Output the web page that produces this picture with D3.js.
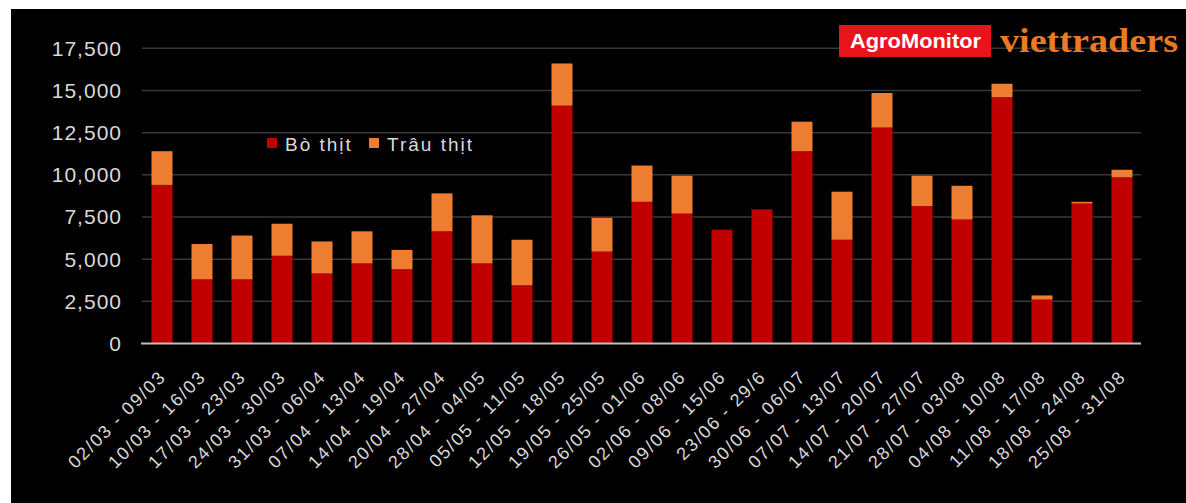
<!DOCTYPE html>
<html>
<head>
<meta charset="utf-8">
<script src="https://cdn.jsdelivr.net/npm/d3@7"></script>
<style>
  body { margin: 0; background: #ffffff; }
  svg { display: block; }
  .grid { stroke: #383838; stroke-width: 1.5; }
  .axis-line { stroke: #bfbfbf; stroke-width: 2; }
  .tick-label { fill: #d9d9d9; font-family: "Liberation Sans", Arial, sans-serif; }
</style>
</head>
<body>
<svg id="chart" width="1186" height="503"></svg>
<script>

// weeks (x categories)
var weeks = ["02/03 - 09/03", "10/03 - 16/03", "17/03 - 23/03", "24/03 - 30/03", "31/03 - 06/04",
             "07/04 - 13/04", "14/04 - 19/04", "20/04 - 27/04", "28/04 - 04/05", "05/05 - 11/05",
             "12/05 - 18/05", "19/05 - 25/05", "26/05 - 01/06", "02/06 - 08/06", "09/06 - 15/06",
             "23/06 - 29/6", "30/06 - 06/07", "07/07 - 13/07", "14/07 - 20/07", "21/07 - 27/07",
             "28/07 - 03/08", "04/08 - 10/08", "11/08 - 17/08", "18/08 - 24/08", "25/08 - 31/08"];

// Bò thịt (beef)
var bo_thit = [9400, 3800, 3800, 5200, 4150, 4750, 4400, 6650, 4750, 3450,
               14100, 5450, 8400, 7700, 6750, 7950, 11400, 6150, 12800, 8150,
               7350, 14600, 2600, 8300, 9850];

// Trâu thịt (buffalo)
var trau_thit = [2000, 2100, 2600, 1900, 1900, 1900, 1150, 2250, 2850, 2700,
                 2500, 2000, 2150, 2250, 0, 0, 1750, 2850, 2050, 1800,
                 2000, 800, 250, 100, 450];

var y_ticks = [0, 2500, 5000, 7500, 10000, 12500, 15000, 17500];

var series_names = ["Bò thịt", "Trâu thịt"];
var series_colors = ["#c00000", "#ed7d31"];

var svg = d3.select("#chart");

// black panel (white strip top / left like the source image)
svg.append("rect")
   .attr("x", 11).attr("y", 9)
   .attr("width", 1186 - 11).attr("height", 503 - 9)
   .attr("fill", "#000000");

var xScale = d3.scaleBand()
               .domain(weeks)
               .range([142, 1142])
               .paddingInner(0.475)
               .paddingOuter(0.2375);

var yScale = d3.scaleLinear()
               .domain([0, 17500])
               .range([343.5, 48.3]);

// gridlines
svg.selectAll("line.grid")
   .data(y_ticks.filter(d => d > 0))
   .enter()
   .append("line")
   .attr("class", "grid")
   .attr("x1", 142)
   .attr("x2", 1141)
   .attr("y1", d => yScale(d))
   .attr("y2", d => yScale(d));

// y labels
svg.selectAll("text.ylab")
   .data(y_ticks)
   .enter()
   .append("text")
   .attr("class", "tick-label")
   .attr("text-anchor", "end")
   .attr("x", 122)
   .attr("y", d => yScale(d) + 7.5)
   .style("font-size", "21px")
   .style("letter-spacing", "1px")
   .text(d => d3.format(",")(d));

// stacked bars
var rows = weeks.map((w, i) => ({week: w, bo: bo_thit[i], trau: trau_thit[i]}));
var stack = d3.stack().keys(["bo", "trau"]);
var layers = stack(rows);

svg.selectAll("g.layer")
   .data(layers)
   .enter()
   .append("g")
   .attr("class", "layer")
   .attr("fill", (d, i) => series_colors[i])
   .selectAll("rect")
   .data(d => d.filter(p => p[1] - p[0] > 0))
   .enter()
   .append("rect")
   .attr("x", d => xScale(d.data.week))
   .attr("width", xScale.bandwidth())
   .attr("y", d => yScale(d[1]))
   .attr("height", d => yScale(d[0]) - yScale(d[1]));

// x axis line
svg.append("line")
   .attr("class", "axis-line")
   .attr("x1", 141).attr("x2", 1141)
   .attr("y1", yScale(0)).attr("y2", yScale(0));

// x labels, rotated
svg.selectAll("text.xlab")
   .data(weeks)
   .enter()
   .append("text")
   .attr("class", "tick-label")
   .attr("text-anchor", "end")
   .attr("transform", d => "translate(" + (xScale(d) + xScale.bandwidth() / 2 + 5) + "," + 378 + ") rotate(-45)")
   .style("font-size", "18px")
   .style("letter-spacing", "1.8px")
   .text(d => d);

// legend
var legend_x = [267, 369];
var legend = svg.selectAll("g.legend")
                .data(series_names)
                .enter()
                .append("g")
                .attr("class", "legend")
                .attr("transform", (d, i) => "translate(" + legend_x[i] + ",138)");

legend.append("rect")
      .attr("width", 10).attr("height", 10)
      .attr("fill", (d, i) => series_colors[i]);

legend.append("text")
      .attr("class", "tick-label")
      .attr("x", 18)
      .attr("y", 13)
      .style("font-size", "19px")
      .style("letter-spacing", "2px")
      .text(d => d);

// logo
svg.append("rect")
   .attr("x", 839).attr("y", 25)
   .attr("width", 152).attr("height", 32)
   .attr("fill", "#e9141b");

svg.append("text")
   .attr("x", 850).attr("y", 48)
   .attr("textLength", 131)
   .attr("lengthAdjust", "spacingAndGlyphs")
   .attr("fill", "#ffffff")
   .style("font-family", "'Liberation Sans', Arial, sans-serif")
   .style("font-weight", "bold")
   .style("font-size", "21px")
   .text("AgroMonitor");

svg.append("text")
   .attr("x", 1000).attr("y", 52)
   .attr("textLength", 178)
   .attr("lengthAdjust", "spacingAndGlyphs")
   .attr("fill", "#ea7a26")
   .style("font-family", "'Liberation Serif', 'DejaVu Serif', serif")
   .style("font-weight", "bold")
   .style("font-size", "34px")
   .text("viettraders");

</script>
</body>
</html>
